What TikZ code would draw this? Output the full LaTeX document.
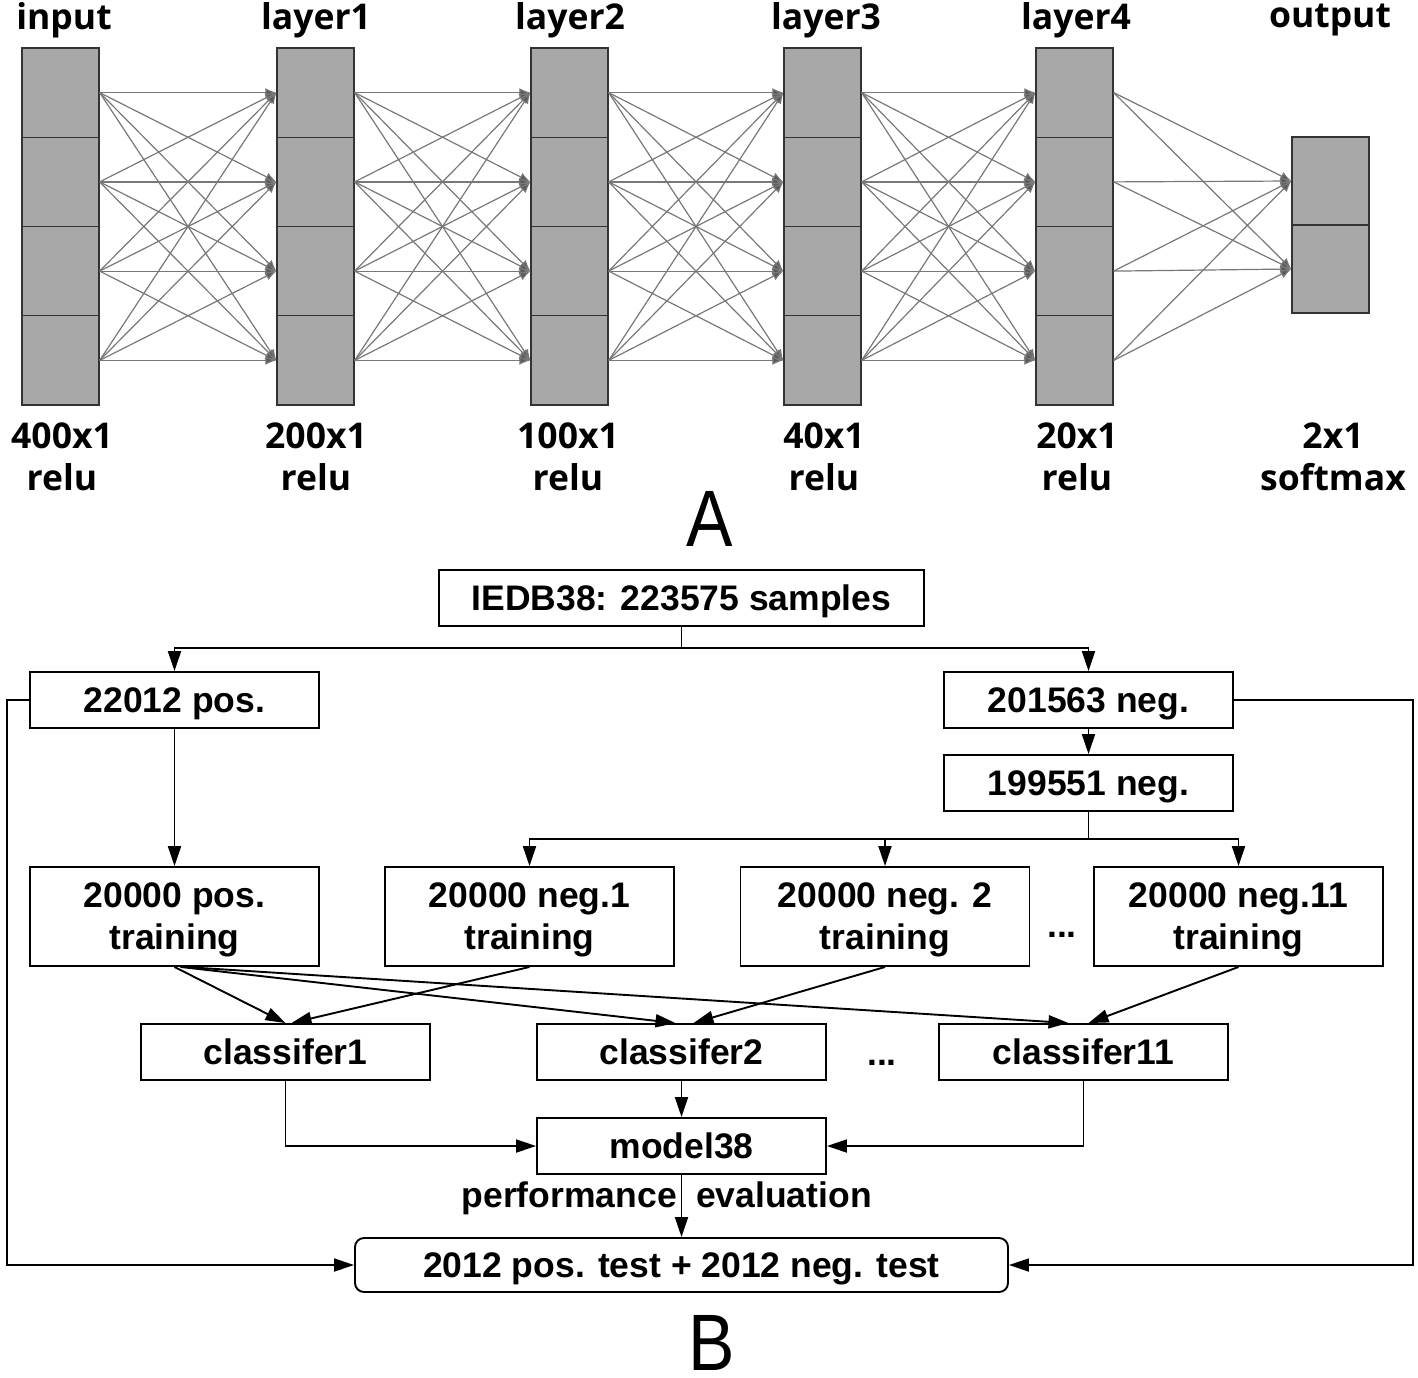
\documentclass[tikz,border=0pt]{standalone}
\usepackage{fontspec}
\setmainfont{Liberation Sans}
\newfontfamily\afont{Open Sans}
\newfontfamily\labfont{Liberation Sans}[FakeStretch=0.87]
\usetikzlibrary{arrows.meta,calc}
\definecolor{cellgray}{RGB}{168,168,168}
\definecolor{linkgray}{RGB}{120,120,120}
\definecolor{tipgray}{RGB}{90,90,90}
\begin{document}
\begin{tikzpicture}[x=1pt,y=-1pt,
 cell/.style={draw=black!80, line width=1.3pt, fill=cellgray, minimum width=77pt, minimum height=89.25pt, inner sep=0pt},
 link/.style={draw=linkgray, line width=1.2pt, -{Latex[length=11pt,width=9pt,fill=tipgray]}},
 alabel/.style={font=\afont\bfseries\fontsize{35.5}{42}\selectfont, align=center, inner sep=0pt},
 bbox/.style={draw, line width=1.9pt, minimum width=289pt, minimum height=56pt, inner sep=0pt, text depth=0pt, align=center, font=\bfseries\fontsize{35.5}{42}\selectfont},
 btext/.style={inner sep=0pt, font=\bfseries\fontsize{35.5}{42}\selectfont},
 barrow/.style={line width=1.9pt, -{Triangle[length=20pt,width=13pt]}},
 bline/.style={line width=1.9pt},
 biglabel/.style={inner sep=0pt, font=\labfont\fontsize{80}{86}\selectfont},
]
\useasboundingbox (0,0) rectangle (1418,1377);

% ---------- Part A ----------
\foreach \c/\x in {0/60.5,1/315.5,2/569.5,3/822.5,4/1074.5} {
  \foreach \r/\y in {1/92.6,2/181.9,3/271.1,4/360.4} {
    \node[cell] (c\c-\r) at (\x,\y) {};
  }
}
\node[cell, minimum height=88pt] (c5-1) at (1330.5,181) {};
\node[cell, minimum height=88pt] (c5-2) at (1330.5,269) {};

\foreach \c [evaluate=\c as \n using int(\c+1)] in {0,...,3} {
  \foreach \i in {1,...,4} {
    \foreach \j in {1,...,4} {
      \draw[link] (c\c-\i.east) -- (c\n-\j.west);
    }
  }
}
\foreach \i in {1,...,4} {
  \foreach \j in {1,2} {
    \draw[link] (c4-\i.east) -- (c5-\j.west);
  }
}

\node[alabel] (tin) at (64,20) {input};
\node[alabel] (tl1) at (316,20) {layer1};
\node[alabel] (tl2) at (570,20) {layer2};
\node[alabel] (tl3) at (826,20) {layer3};
\node[alabel] (tl4) at (1076,20) {layer4};
\node[alabel] (tout) at (1330,20) {output};

\node[alabel] (bin) at (62,457) {400x1\\relu};
\node[alabel] (bl1) at (316,457) {200x1\\relu};
\node[alabel] (bl2) at (568,457) {100x1\\relu};
\node[alabel] (bl3) at (824,457) {40x1\\relu};
\node[alabel] (bl4) at (1077,457) {20x1\\relu};
\node[alabel] (bout) at (1333,457) {2x1\\softmax};

\node[biglabel] (labA) at (710,519) {A};

% ---------- Part B ----------
\node[bbox, minimum width=485pt] (iedb) at (681.5,598) {IEDB38: 223575 samples};
\node[bbox] (pos22) at (174.5,700) {22012 pos.};
\node[bbox] (neg201) at (1088.5,700) {201563 neg.};
\node[bbox] (neg199) at (1088.5,783) {199551 neg.};
\node[bbox, minimum height=99pt] (tpos) at (174.5,916.5) {20000 pos.\\training};
\node[bbox, minimum height=99pt] (tneg1) at (529.5,916.5) {20000 neg.1\\training};
\node[bbox, minimum height=99pt] (tneg2) at (885,916.5) {20000 neg. 2\\training};
\node[bbox, minimum height=99pt] (tneg11) at (1238.5,916.5) {20000 neg.11\\training};
\node[btext, anchor=base] (dots1) at (1062,937) {...};
\node[bbox] (cls1) at (285.5,1052) {classifer1};
\node[bbox] (cls2) at (681.5,1052) {classifer2};
\node[bbox] (cls11) at (1083.5,1052) {classifer11};
\node[btext, anchor=base] (dots2) at (882,1065) {...};
\node[bbox] (model) at (681.5,1146) {model38};
\node[bbox, minimum width=653pt, minimum height=54pt, rounded corners=9pt] (test) at (681.5,1265) {2012 pos. test + 2012 neg. test};
\node[btext, anchor=base east] (perf) at (677,1207) {performance};
\node[btext, anchor=base west] (evalu) at (696,1207) {evaluation};
\node[biglabel] (labB) at (712,1343) {B};

\coordinate (split1) at (681.5,648);
\coordinate (split2) at (1088.5,839);
\draw[bline] (iedb.south) -- (split1);
\draw[barrow] (split1) -| (pos22.north);
\draw[barrow] (split1) -| (neg201.north);
\draw[barrow] (neg201.south) -- (neg199.north);
\draw[bline] (neg199.south) -- (split2);
\draw[barrow] (split2) -| (tneg1.north);
\draw[barrow] (split2) -| (tneg2.north);
\draw[barrow] (split2) -| (tneg11.north);
\draw[barrow] (pos22.south) -- (tpos.north);

\draw[barrow] (tpos.south) -- (cls1.north);
\draw[barrow] ([xshift=6pt]tpos.south) -- ([xshift=-6pt]cls2.north);
\draw[barrow] ([xshift=10pt]tpos.south) -- ([xshift=-15pt]cls11.north);
\draw[barrow] (tneg1.south) -- ([xshift=6pt]cls1.north);
\draw[barrow] (tneg2.south) -- ([xshift=12pt]cls2.north);
\draw[barrow] (tneg11.south) -- ([xshift=5pt]cls11.north);

\draw[barrow] (cls1.south) |- (model.west);
\draw[barrow] (cls2.south) -- (model.north);
\draw[barrow] (cls11.south) |- (model.east);
\draw[barrow] (model.south) -- (test.north);

\draw[barrow] (pos22.west) -- ++(-22,0) |- (test.west);
\draw[barrow] (neg201.east) -- ++(179,0) |- (test.east);
\end{tikzpicture}
\end{document}
